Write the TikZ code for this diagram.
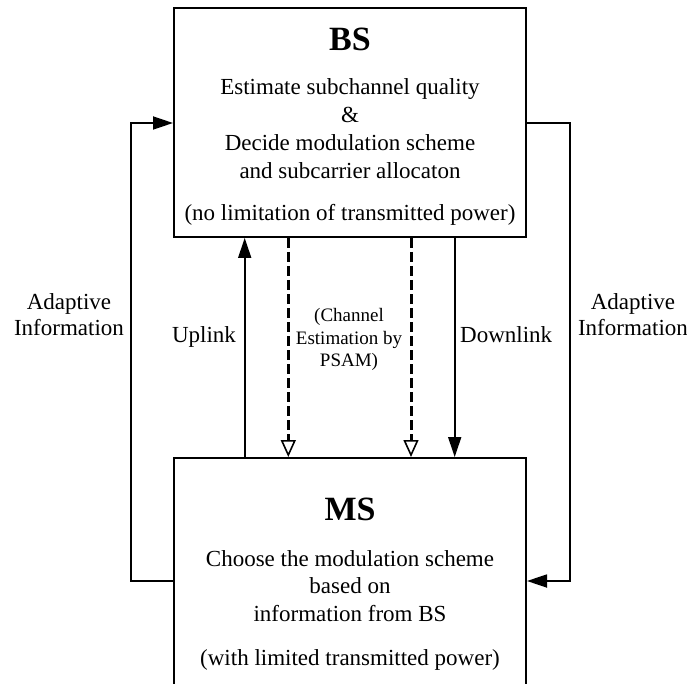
\documentclass[tikz,border=0pt]{standalone}
\usepackage{fontspec}
\setmainfont{Liberation Serif}
\usetikzlibrary{arrows.meta}
\begin{document}
\begin{tikzpicture}[x=1pt,y=-1pt,
  box/.style={draw,line width=2pt,minimum width=352pt,inner sep=0pt},
  txt/.style={font=\fontsize{23}{28}\selectfont,anchor=base,inner sep=0pt},
  title/.style={font=\fontsize{34}{40}\selectfont\bfseries,anchor=base,inner sep=0pt},
  small/.style={font=\fontsize{19}{23}\selectfont,anchor=base,inner sep=0pt},
  link/.style={line width=1.8pt},
  filled/.style={-{Triangle[length=20pt,width=13pt]}},
  hollow/.style={-{Triangle[open,length=17pt,width=15pt,line width=1.6pt]}},
  pilot/.style={line width=3pt,dash pattern=on 10pt off 4pt},
]
\useasboundingbox (0,0) rectangle (687,684);
\clip (0,0) rectangle (687,684);

% base station block
\node[box,minimum height=229pt] (bs) at (350,122.5) {};
\node[title] (bsT) at (350,51) {BS};
\node[txt] (bs1) at (350,95) {Estimate subchannel quality};
\node[txt] (bs2) at (350,122.5) {\&};
\node[txt] (bs3) at (350,150.5) {Decide modulation scheme};
\node[txt] (bs4) at (350,178.5) {and subcarrier allocaton};
\node[txt] (bs5) at (350,220.5) {(no limitation of transmitted power)};

% mobile station block (runs past the lower edge)
\node[box,minimum height=260pt] (ms) at (350,588) {};
\node[title] (msT) at (350,520) {MS};
\node[txt] (ms1) at (350,566) {Choose the modulation scheme};
\node[txt] (ms2) at (350,593.5) {based on};
\node[txt] (ms3) at (350,621.5) {information from BS};
\node[txt] (ms4) at (350,665) {(with limited transmitted power)};

% feedback loops
\coordinate (l1) at (131,123);
\coordinate (l2) at (131,581);
\coordinate (r1) at (570,123);
\coordinate (r2) at (570,581);
\draw[link,filled] (ms.west |- l2) -- (l2) -- (l1) -- (bs.west |- l1);
\draw[link,filled] (bs.east |- r1) -- (r1) -- (r2) -- (ms.east |- r2);

% vertical links
\draw[link,filled] (ms.north -| 244.7,0) -- (bs.south -| 244.7,0);
\draw[link,filled] (bs.south -| 454.7,0) -- (ms.north -| 454.7,0);
\draw[pilot] (bs.south -| 288.3,0) -- ([yshift=17pt]ms.north -| 288.3,0);
\draw[link,hollow] ([yshift=18pt]ms.north -| 288.3,0) -- (ms.north -| 288.3,0);
\draw[pilot] (bs.south -| 411,0) -- ([yshift=17pt]ms.north -| 411,0);
\draw[link,hollow] ([yshift=18pt]ms.north -| 411,0) -- (ms.north -| 411,0);

% labels
\node[txt] (up) at (204,342) {Uplink};
\node[txt,anchor=base west] (down) at (460,342) {Downlink};
\node[small] (ce1) at (349,321) {(Channel};
\node[small] (ce2) at (349,344) {Estimation by};
\node[small] (ce3) at (349,366.5) {PSAM)};
\node[txt] (al1) at (69,309) {Adaptive};
\node[txt] (al2) at (69,335) {Information};
\node[txt] (ar1) at (633,309) {Adaptive};
\node[txt] (ar2) at (633,335) {Information};
\end{tikzpicture}
\end{document}
